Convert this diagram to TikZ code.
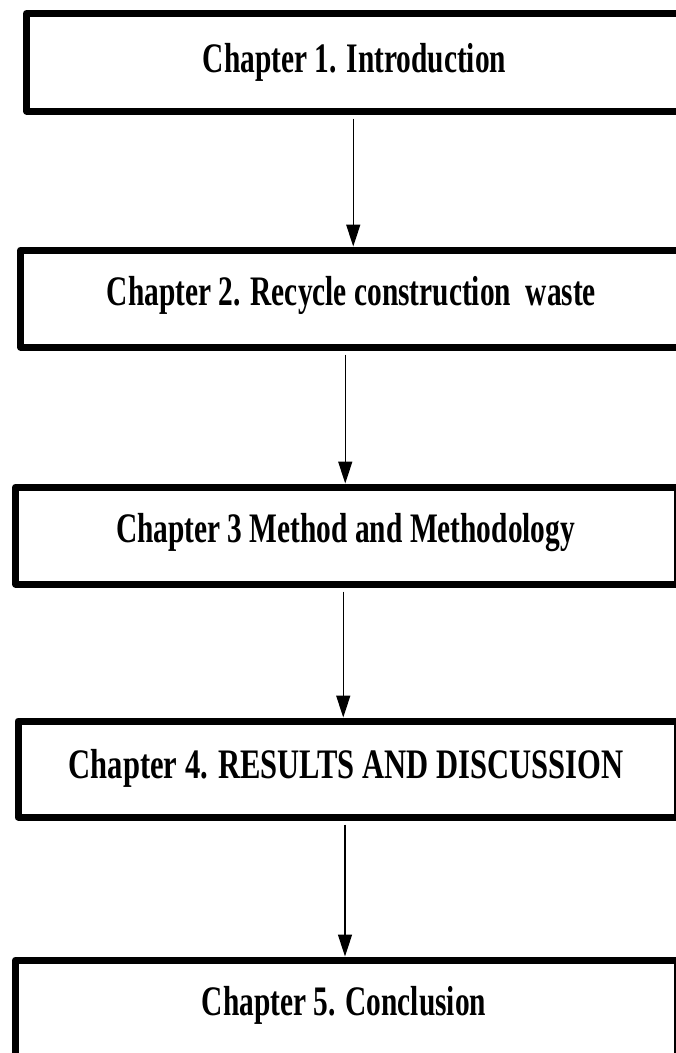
\documentclass[tikz,border=0pt]{standalone}
\usepackage{fontspec}
\newfontfamily\chapfont{Liberation Serif}[FakeStretch=0.70]
\newfontfamily\chapfontw{Liberation Serif}[FakeStretch=0.728]
\usetikzlibrary{arrows.meta}
\begin{document}
\begin{tikzpicture}[x=1pt,y=-1pt,
  box/.style={draw=black, line width=7pt, rectangle, inner sep=0pt, line join=round},
  lbl/.style={inner sep=0pt, anchor=base, text=black, font=\chapfont\bfseries\fontsize{42}{50}\selectfont},
  lblw/.style={lbl, font=\chapfontw\bfseries\fontsize{42}{50}\selectfont},
  arr/.style={draw=black, line width=1.5pt, -{Triangle[length=22pt,width=14pt]}}]
\useasboundingbox (0,0) rectangle (676,1053);
\fill[white] (0,0) rectangle (676,1053);
\clip (0,0) rectangle (676,1053);
% boxes
\node[box, minimum width=653.5pt, minimum height=97.5pt] (b1) at (353.25,62.25) {};
\node[box, minimum width=659.5pt, minimum height=97pt] (b2) at (350.25,298.5) {};
\node[box, minimum width=661.5pt, minimum height=97pt] (b3) at (346.25,535.5) {};
\node[box, minimum width=659pt, minimum height=96pt] (b4) at (347.5,769) {};
\node[box, minimum width=661.5pt, minimum height=100pt] (b5) at (346.25,1010) {};
% labels
\node[lbl] (t1) at (354.5,72) {Chapter 1. Introduction};
\node[lbl] (t2) at (351.5,305) {Chapter 2. Recycle construction\ \ waste};
\node[lbl] (t3) at (345.5,542) {Chapter 3 Method and Methodology};
\node[lblw] (t4) at (346,778) {Chapter 4. RESULTS AND DISCUSSION};
\node[lbl] (t5) at (344,1015) {Chapter 5. Conclusion};
% connectors
\draw[arr] ([yshift=-4pt]b1.south) -- (b1.south |- b2.north);
\draw[arr] ([shift={(-5pt,-4pt)}]b2.south) -- ([xshift=-5pt]b2.south |- b3.north);
\draw[arr] ([shift={(-3pt,-4pt)}]b3.south) -- ([xshift=-3pt]b3.south |- b4.north);
\draw[arr] ([shift={(-2.5pt,-4pt)}]b4.south) -- ([xshift=-2.5pt]b4.south |- b5.north);
\end{tikzpicture}
\end{document}
